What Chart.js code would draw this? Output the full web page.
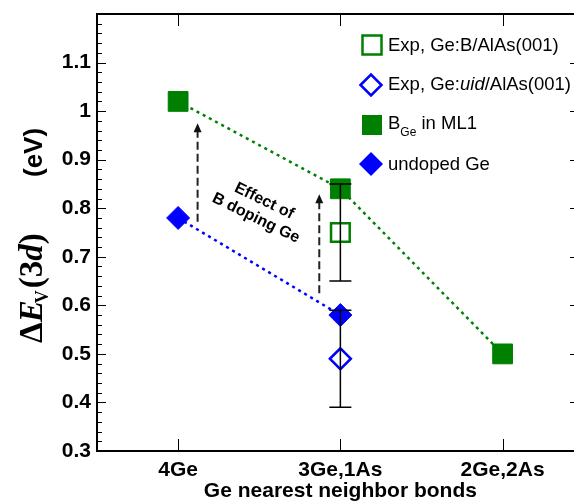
<!DOCTYPE html>
<html>
<head>
<meta charset="utf-8">
<script src="https://cdn.jsdelivr.net/npm/chart.js@4.4.1/dist/chart.umd.min.js"></script>
<style>
  html, body { margin: 0; padding: 0; background: #fff; overflow: hidden; }
</style>
</head>
<body>
<canvas id="chart" width="574" height="501"></canvas>
<script>
// x categories (placed on a linear axis at 1, 2, 3)
const bondLabels = ['4Ge', '3Ge,1As', '2Ge,2As'];
const bondPos = [1, 2, 3];

// calculated values (eV)
const calcBoron = [1.02, 0.84, 0.50];   // B_Ge in ML1
const calcUndoped = [0.78, 0.58];       // undoped Ge

// experiment, measured at 3Ge,1As
const expPos = [2];
const expBoron = [0.75];
const expUndoped = [0.49];
const expErr = [0.10, 0.10];

const yTickValues = [0.3, 0.4, 0.5, 0.6, 0.7, 0.8, 0.9, 1.0, 1.1];

// "Effect of B doping Ge" arrows
const arrowX = [1.12, 1.87];
const arrowFrom = [0.772, 0.625];
const arrowTo = [0.975, 0.829];

const GREEN = '#008000';
const BLUE = '#0000ff';
const SANS = '"Liberation Sans", Arial, sans-serif';
const SERIF = '"Liberation Serif", "Times New Roman", serif';

function toPoints(xs, ys) {
  return ys.map((v, i) => ({ x: xs[i], y: v }));
}

function drawSquare(ctx, cx, cy, half, color, filled) {
  ctx.beginPath();
  ctx.rect(cx - half, cy - half, half * 2, half * 2);
  if (filled) {
    ctx.fillStyle = color;
    ctx.fill();
  } else {
    ctx.strokeStyle = color;
    ctx.lineWidth = 2.5;
    ctx.stroke();
  }
}

function drawDiamond(ctx, cx, cy, r, color, filled) {
  ctx.beginPath();
  ctx.moveTo(cx - r, cy);
  ctx.lineTo(cx, cy - r);
  ctx.lineTo(cx + r, cy);
  ctx.lineTo(cx, cy + r);
  ctx.closePath();
  if (filled) {
    ctx.fillStyle = color;
    ctx.fill();
  } else {
    ctx.strokeStyle = color;
    ctx.lineWidth = 2.5;
    ctx.stroke();
  }
}

function drawParts(ctx, parts, x, y) {
  parts.forEach(p => {
    ctx.font = p.font;
    ctx.fillText(p.text, x, y + (p.dy || 0));
    x += ctx.measureText(p.text).width;
  });
  return x;
}

const decor = {
  id: 'decor',
  afterDatasetsDraw(chart) {
    const { ctx, chartArea: a, scales: { x, y } } = chart;
    ctx.save();

    // error bars
    ctx.strokeStyle = '#000';
    ctx.lineWidth = 1.5;
    [expBoron, expUndoped].forEach((vals, k) => {
      vals.forEach((v, i) => {
        const px = x.getPixelForValue(expPos[i]);
        const top = y.getPixelForValue(v + expErr[k]);
        const bot = y.getPixelForValue(v - expErr[k]);
        ctx.beginPath();
        ctx.moveTo(px, top); ctx.lineTo(px, bot);
        ctx.moveTo(px - 11, top); ctx.lineTo(px + 11, top);
        ctx.moveTo(px - 11, bot); ctx.lineTo(px + 11, bot);
        ctx.stroke();
      });
    });

    // dashed arrows
    arrowX.forEach((xv, i) => {
      const px = x.getPixelForValue(xv);
      const y0 = y.getPixelForValue(arrowFrom[i]);
      const y1 = y.getPixelForValue(arrowTo[i]);
      ctx.strokeStyle = '#222';
      ctx.lineWidth = 2;
      ctx.setLineDash([8, 4]);
      ctx.beginPath();
      ctx.moveTo(px, y0);
      ctx.lineTo(px, y1 + 8);
      ctx.stroke();
      ctx.setLineDash([]);
      ctx.fillStyle = '#111';
      ctx.beginPath();
      ctx.moveTo(px, y1);
      ctx.lineTo(px - 4, y1 + 9);
      ctx.lineTo(px + 4, y1 + 9);
      ctx.closePath();
      ctx.fill();
    });

    // frame
    ctx.strokeStyle = '#000';
    ctx.lineWidth = 2;
    ctx.beginPath();
    ctx.moveTo(a.right + 2, a.top);
    ctx.lineTo(a.left, a.top);
    ctx.lineTo(a.left, a.bottom);
    ctx.lineTo(a.right + 2, a.bottom);
    ctx.stroke();

    // ticks
    ctx.lineWidth = 1;
    ctx.beginPath();
    for (let k = 0; k <= 45; k++) {
      const v = 0.3 + k * 0.02;
      const py = Math.round(y.getPixelForValue(v)) + 0.5;
      const len = k % 5 === 0 ? 9 : 5;
      ctx.moveTo(a.left, py); ctx.lineTo(a.left + len, py);
      if (k % 5 === 0) { ctx.moveTo(a.right, py); ctx.lineTo(a.right - 4, py); }
    }
    bondPos.forEach(v => {
      const px = Math.round(x.getPixelForValue(v)) + 0.5;
      ctx.moveTo(px, a.top); ctx.lineTo(px, a.top + 12);
      ctx.moveTo(px, a.bottom); ctx.lineTo(px, a.bottom - 12);
    });
    ctx.stroke();
    ctx.restore();
  },
  afterDraw(chart) {
    const { ctx, scales: { x, y } } = chart;
    ctx.save();
    ctx.fillStyle = '#000';
    ctx.textBaseline = 'alphabetic';

    // x title
    ctx.textAlign = 'center';
    ctx.font = 'bold 21px ' + SANS;
    ctx.fillText('Ge nearest neighbor bonds', x.getPixelForValue(2), 497);

    // y title, rotated
    ctx.textAlign = 'left';
    ctx.save();
    ctx.translate(42, 343);
    ctx.rotate(-Math.PI / 2);
    let tx = drawParts(ctx, [
      { text: 'Δ', font: 'bold 33px ' + SERIF },
      { text: 'E', font: 'bold italic 33px ' + SERIF }
    ], 0, 0);
    tx = drawParts(ctx, [{ text: 'V', font: 'bold 18px ' + SERIF, dy: 6 }], tx - 3, 0);
    tx = drawParts(ctx, [
      { text: '(3', font: 'bold 33px ' + SERIF },
      { text: 'd', font: 'bold italic 33px ' + SERIF },
      { text: ')', font: 'bold 33px ' + SERIF }
    ], tx + 2, 0);
    drawParts(ctx, [{ text: '(eV)', font: 'bold 26px ' + SANS }], 166, 0);
    ctx.restore();

    // legend
    const lf = '18.5px ' + SANS;
    drawSquare(ctx, 372, 45, 9.5, GREEN, false);
    drawDiamond(ctx, 371, 85, 10.5, BLUE, false);
    drawSquare(ctx, 372, 125, 10, GREEN, true);
    drawDiamond(ctx, 371, 164, 12, BLUE, true);
    ctx.fillStyle = '#000';
    drawParts(ctx, [{ text: 'Exp, Ge:B/AlAs(001)', font: lf }], 388, 51);
    drawParts(ctx, [
      { text: 'Exp, Ge:', font: lf },
      { text: 'uid', font: 'italic ' + lf },
      { text: '/AlAs(001)', font: lf }
    ], 388, 90);
    drawParts(ctx, [
      { text: 'B', font: lf },
      { text: 'Ge', font: '12px ' + SANS, dy: 7 },
      { text: ' in ML1', font: lf }
    ], 388, 129);
    drawParts(ctx, [{ text: 'undoped Ge', font: lf }], 388, 170);

    // annotation
    ctx.save();
    ctx.translate(x.getPixelForValue(1.505), y.getPixelForValue(0.797));
    ctx.rotate(26 * Math.PI / 180);
    ctx.textAlign = 'center';
    ctx.textBaseline = 'middle';
    ctx.font = 'bold 16px ' + SANS;
    ctx.fillText('Effect of', 0, -9.5);
    ctx.fillText('B doping Ge', 0, 9.5);
    ctx.restore();

    ctx.restore();
  }
};

new Chart(document.getElementById('chart'), {
  type: 'scatter',
  data: {
    datasets: [
      {
        label: 'B_Ge in ML1',
        data: toPoints(bondPos, calcBoron),
        showLine: true,
        borderColor: GREEN,
        borderWidth: 2.5,
        borderDash: [3, 4],
        pointStyle: 'rect',
        pointRadius: 14,
        pointBackgroundColor: GREEN,
        pointBorderColor: GREEN,
        pointBorderWidth: 1
      },
      {
        label: 'undoped Ge',
        data: toPoints(bondPos, calcUndoped),
        showLine: true,
        borderColor: BLUE,
        borderWidth: 2.5,
        borderDash: [3, 4],
        pointStyle: 'rectRot',
        pointRadius: 11.5,
        pointBackgroundColor: BLUE,
        pointBorderColor: BLUE,
        pointBorderWidth: 1
      },
      {
        label: 'Exp, Ge:B/AlAs(001)',
        data: toPoints(expPos, expBoron),
        pointStyle: 'rect',
        pointRadius: 13.2,
        pointBackgroundColor: 'rgba(0,0,0,0)',
        pointBorderColor: GREEN,
        pointBorderWidth: 2.5
      },
      {
        label: 'Exp, Ge:uid/AlAs(001)',
        data: toPoints(expPos, expUndoped),
        pointStyle: 'rectRot',
        pointRadius: 10.5,
        pointBackgroundColor: 'rgba(0,0,0,0)',
        pointBorderColor: BLUE,
        pointBorderWidth: 2.5
      }
    ]
  },
  options: {
    responsive: false,
    animation: false,
    layout: { autoPadding: false, padding: { top: 14, right: 0, left: 0, bottom: 0 } },
    plugins: { legend: { display: false }, tooltip: { enabled: false } },
    scales: {
      x: {
        type: 'linear',
        min: 0.5,
        max: 3.44,
        grid: { display: false, drawTicks: false },
        border: { display: false },
        afterBuildTicks: s => { s.ticks = bondPos.map(v => ({ value: v })); },
        afterFit: s => { s.height = 50; s.paddingLeft = 0; s.paddingRight = 0; },
        ticks: {
          autoSkip: false,
          maxRotation: 0,
          padding: 7,
          color: '#000',
          font: { family: SANS, size: 21, weight: 'bold' },
          callback: (v, i) => bondLabels[i]
        }
      },
      y: {
        min: 0.3,
        max: 1.2,
        grid: { display: false, drawTicks: false },
        border: { display: false },
        afterBuildTicks: s => { s.ticks = yTickValues.map(v => ({ value: v })); },
        afterFit: s => { s.width = 97; s.paddingTop = 0; s.paddingBottom = 0; },
        ticks: {
          padding: 6,
          color: '#000',
          font: { family: SANS, size: 21, weight: 'bold' },
          callback: v => String(Number(v.toFixed(1)))
        }
      }
    }
  },
  plugins: [decor]
});
</script>
</body>
</html>
